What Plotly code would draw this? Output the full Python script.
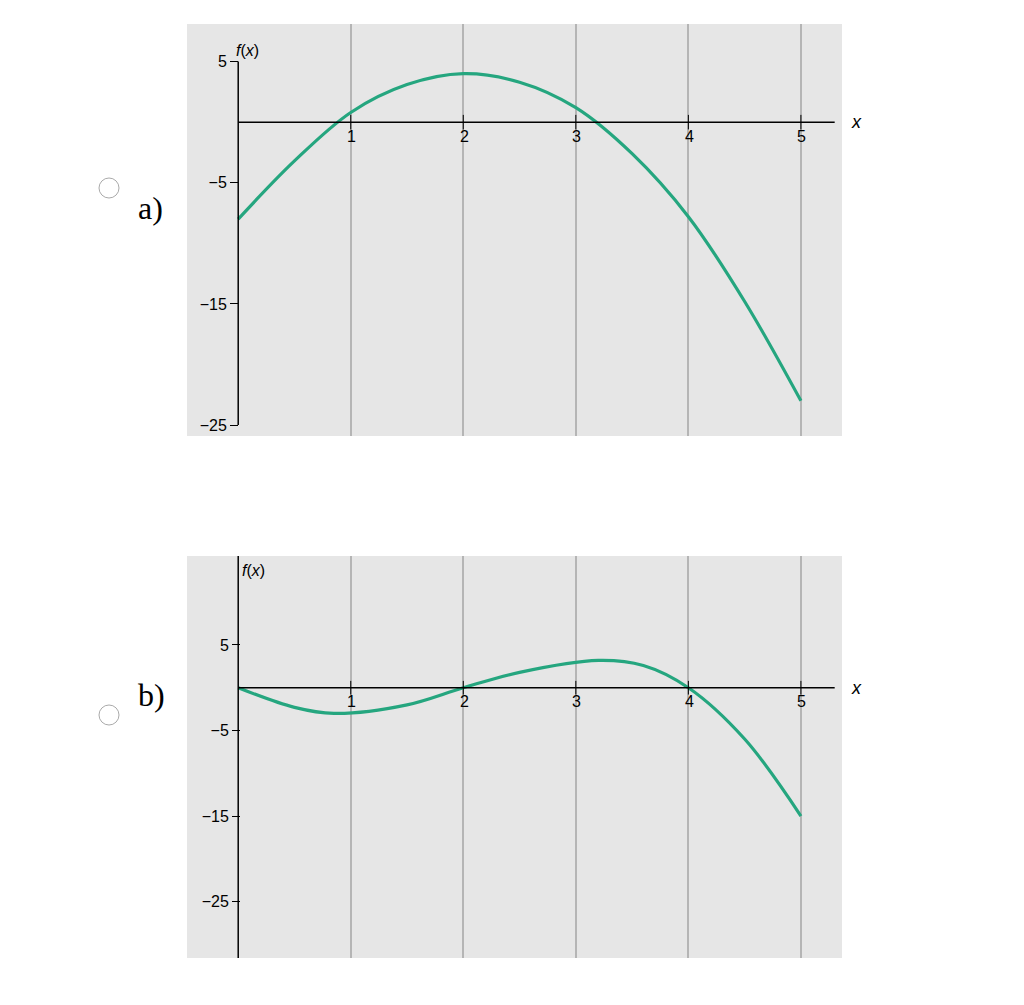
import plotly.graph_objects as go

xa = [0, 0.5, 1, 1.5, 2, 2.5, 3, 3.5, 4, 4.5, 5]
ya = [-8, -3.2, 0.8, 3.1, 4.0, 3.3, 1.2, -2.6, -7.8, -14.8, -23]
xb = [0, 0.5, 0.85, 1.5, 2, 2.5, 3.2, 3.6, 4, 4.5, 5]
yb = [0, -2.3, -3.0, -2.0, 0, 1.8, 3.2, 2.6, 0, -6, -15]
xticks = [1, 2, 3, 4, 5]
yticks = [5, -5, -15, -25]
green = "#25a67f"
O = 8  # page body offset
W, H = 1024, 1005

def px(p): return (p - O) / W
def py(p): return 1 - (p - O) / H

fig = go.Figure()
fig.add_trace(go.Scatter(x=xa, y=ya, mode="lines", line=dict(color=green, width=3.2, shape="spline", smoothing=1.0), xaxis="x", yaxis="y"))
fig.add_trace(go.Scatter(x=xb, y=yb, mode="lines", line=dict(color=green, width=3.2, shape="spline"), xaxis="x2", yaxis="y2"))

xd = [px(187), px(842)]
common_x = dict(range=[-0.455, 5.365], tickvals=xticks, showticklabels=False, showgrid=True,
                gridcolor="#b5b5b5", gridwidth=1.5, zeroline=False, showline=False)
tf = dict(family="Arial", size=16, color="black")
fig.update_layout(
    width=W, height=H, margin=dict(l=0, r=0, t=0, b=0),
    paper_bgcolor="white", plot_bgcolor="#e6e6e6", showlegend=False,
    xaxis=dict(domain=xd, anchor="y", **common_x),
    xaxis2=dict(domain=xd, anchor="y2", **common_x),
    yaxis=dict(domain=[py(436), py(24)], range=[-25.9, 8.1], anchor="free", position=px(238),
               tickvals=yticks, ticktext=["5", "−5", "−15", "−25"], ticks="outside", ticklen=8, tickcolor="black",
               showgrid=False, zeroline=False, showline=False, tickfont=tf),
    yaxis2=dict(domain=[py(958), py(556)], range=[-31.6, 15.4], anchor="free", position=px(240),
                tickvals=yticks, ticktext=["5", "−5", "−15", "−25"], ticks="outside", ticklen=8, tickcolor="black",
                showgrid=False, zeroline=False, showline=False, tickfont=tf),
)

shapes = []
ann = []
for xr, yr, top, bot, tk in [("x", "y", 5, -25, 0.6), ("x2", "y2", 15.4, -31.6, 0.8)]:
    shapes.append(dict(type="line", xref=xr, yref=yr, x0=0, x1=0, y0=bot, y1=top, line=dict(color="black", width=1.5)))
    shapes.append(dict(type="line", xref=xr, yref=yr, x0=0, x1=5.3, y0=0, y1=0, line=dict(color="black", width=1.5)))
    for t in xticks:
        shapes.append(dict(type="line", xref=xr, yref=yr, x0=t, x1=t, y0=-tk, y1=tk, line=dict(color="black", width=1)))
        ann.append(dict(x=t, y=0, xref=xr, yref=yr, text=str(t), showarrow=False, yshift=-14, xshift=1, font=tf))
    ann.append(dict(x=5.3, y=0, xref=xr, yref=yr, text="<i>x</i>", showarrow=False, xshift=22,
                    font=dict(family="Arial", size=18, color="black")))
ann.append(dict(x=px(234), y=py(40), xref="paper", yref="paper", text="<i>f</i>(<i>x</i>)", showarrow=False,
                font=dict(family="Arial", size=16, color="black")))
ann.append(dict(x=px(240), y=py(570), xref="paper", yref="paper", text="<i>f</i>(<i>x</i>)", showarrow=False,
                font=dict(family="Arial", size=16, color="black")))
for cy, lab in [(188, "a)"), (715, "b)")]:
    shapes.append(dict(type="circle", xref="paper", yref="paper", x0=px(99), x1=px(119), y0=py(cy + 10), y1=py(cy - 10),
                       line=dict(color="#aaaaaa", width=1), fillcolor="white"))
    ann.append(dict(x=px(136), y=py(cy), xref="paper", yref="paper", text=lab, showarrow=False, xanchor="left",
                    font=dict(family="Times New Roman, Liberation Serif", size=32, color="black")))
fig.update_layout(shapes=shapes, annotations=ann)
fig.write_html("out.html")
